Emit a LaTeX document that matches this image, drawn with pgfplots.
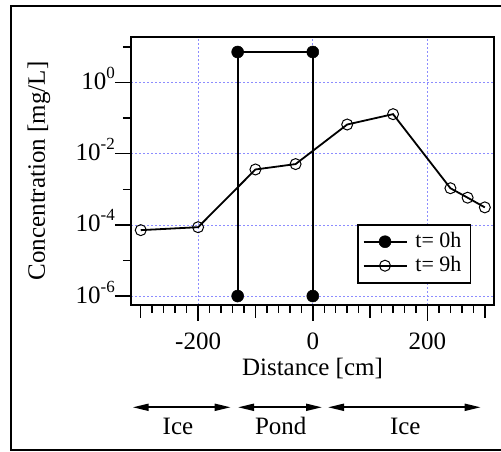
\documentclass[border=0pt]{standalone}
\usepackage{fontspec}
\setmainfont{Liberation Serif}
\usepackage{pgfplots}
\pgfplotsset{compat=1.18}
\usetikzlibrary{arrows.meta}
\newcommand\sx[1]{10\raisebox{0.44em}{\fontsize{17}{17}\selectfont #1}}
\begin{document}
\fontsize{25}{30}\selectfont
\begin{tikzpicture}
\useasboundingbox (0,0) rectangle (501pt,452pt);
\draw[line width=1.6pt] (11pt,2pt) rectangle (520pt,446pt);
\begin{axis}[
  at={(131pt,147pt)}, anchor=south west,
  scale only axis, width=363pt, height=268pt,
  xmin=-317, xmax=316, ymode=log, ymin=5.6e-7, ymax=19,
  axis line style={line width=1.8pt},
  tick align=outside, xtick pos=left, ytick pos=left,
  xtick={-200,0,200}, xticklabels={-200,0,200},
  minor xtick={-300,-280,...,300},
  extra x ticks={-300,-100,100,300}, extra x tick labels={},
  extra x tick style={grid=none, major tick length=13pt},
  ytick={1e-6,1e-4,1e-2,1},
  yticklabels={\sx{-6},\sx{-4},\sx{-2},\sx{0}},
  minor ytick={1e-5,1e-3,1e-1,10},
  major tick length=16pt, minor tick length=8pt,
  tick style={line width=1.5pt, black},
  grid=major,
  major grid style={draw=blue!45, dash pattern=on 2pt off 2pt, line width=0.6pt},
  xticklabel style={anchor=base, yshift=-29pt},
  yticklabel style={anchor=base east, inner sep=0pt, yshift=-7pt},
  xlabel={Distance [cm]},
  xlabel style={at={(axis description cs:0.5,-0.2612)}, anchor=base},
  ylabel={Concentration [mg/L]},
  ylabel style={at={(axis description cs:-0.237,0.5)}, anchor=base},
  legend style={at={(rel axis cs:0.6218,0.303)}, anchor=north west,
    font=\fontsize{22}{22}\selectfont, draw=black, line width=1.8pt,
    inner xsep=5pt, inner ysep=6.5pt, nodes={inner xsep=4pt, inner ysep=1pt}, row sep=3pt, column sep=4pt},
  legend cell align=left,
  legend image code/.code={\draw[#1, mark repeat=2, mark phase=2] plot coordinates {(0pt,0pt) (21.5pt,0pt) (43pt,0pt)};},
]
\addplot[line width=1.8pt, mark=*, mark size=6pt, mark options={fill=black, line width=0.5pt}]
  coordinates {(-131,1e-6) (-131,7.2) (0,7.2) (0,1e-6)};
\addlegendentry{t= 0h}
\addplot[line width=1.8pt, mark=o, mark size=5.5pt, mark options={line width=1pt}]
  coordinates {(-300,7.1e-5) (-200,8.6e-5) (-100,3.6e-3) (-30,5.1e-3) (60,0.066) (140,0.129) (240,1.07e-3) (270,5.8e-4) (300,3.1e-4)};
\addlegendentry{t= 9h}
\end{axis}
\draw[line width=1.8pt, {Triangle[length=16pt,width=7pt]}-{Triangle[length=16pt,width=7pt]}] (132.7pt,44.7pt) -- (230.7pt,44.7pt);
\draw[line width=1.8pt, {Triangle[length=16pt,width=7pt]}-{Triangle[length=16pt,width=7pt]}] (238pt,44.7pt) -- (322pt,44.7pt);
\draw[line width=1.8pt, {Triangle[length=16pt,width=7pt]}-{Triangle[length=16pt,width=7pt]}] (328pt,44.7pt) -- (480.7pt,44.7pt);
\node[anchor=base] at (178pt,17.7pt) {Ice};
\node[anchor=base] at (280.7pt,17.7pt) {Pond};
\node[anchor=base] at (405.3pt,17.7pt) {Ice};
\end{tikzpicture}
\end{document}
